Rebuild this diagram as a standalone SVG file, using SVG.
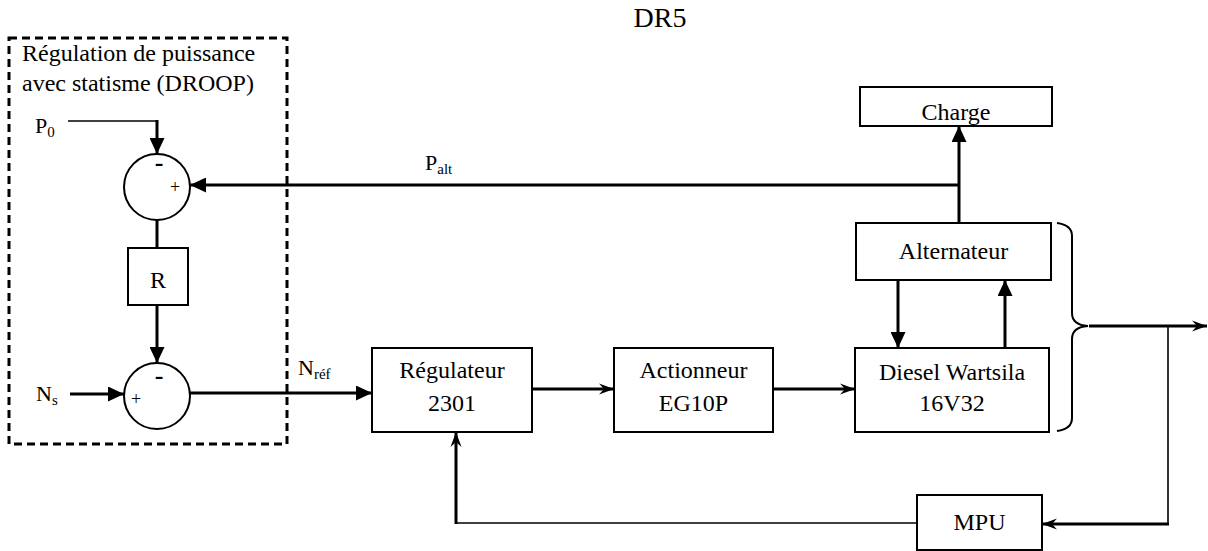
<svg xmlns="http://www.w3.org/2000/svg" width="1208" height="551" viewBox="0 0 1208 551" font-family="'Liberation Serif', 'DejaVu Serif', serif">
<style>
text{font-family:"Liberation Serif","DejaVu Serif",serif;fill:#000}
.lbl{font-size:24px;text-anchor:middle}
.box{fill:#fff;stroke:#000;stroke-width:2}
.sum{fill:#fff;stroke:#000;stroke-width:2}
.thk{stroke:#000;stroke-width:3;fill:none}
.thn{stroke:#000;stroke-width:1.6;fill:none}
.sig{font-size:22px}
.sub{font-size:15px}
.pm{font-size:18px;text-anchor:middle}
.mn{font-size:26px;font-weight:bold;text-anchor:middle}
</style>
<defs>
<marker id="tri" markerUnits="userSpaceOnUse" markerWidth="16" markerHeight="15" refX="16" refY="7.5" orient="auto">
<path d="M0,0 L16,7.5 L0,15 Z" fill="#000"/>
</marker>
<marker id="barb" markerUnits="userSpaceOnUse" markerWidth="16" markerHeight="12" refX="15" refY="6" orient="auto">
<path d="M0,0.5 L15,6 L0,11.5 L5,6 Z" fill="#000"/>
</marker>
</defs>
<rect width="1208" height="551" fill="#fff"/>
<text x="660" y="27" font-family="'Liberation Serif', 'DejaVu Serif', serif" style="font-size:28px" text-anchor="middle">DR5</text>

<g id="droop">
<rect x="9" y="38" width="278" height="406" fill="none" stroke="#000" stroke-width="3" stroke-dasharray="8,5"/>
<text x="22" y="61" style="font-size:24px">Régulation de puissance</text>
<text x="22" y="91" style="font-size:24px">avec statisme (DROOP)</text>
</g>

<g id="sum1">
<circle class="sum" cx="157" cy="187" r="33"/>
<text class="mn" x="159" y="171">-</text>
<text class="pm" x="175" y="193">+</text>
</g>
<g id="R">
<rect class="box" x="128" y="248" width="60" height="57"/>
<text class="lbl" x="158" y="288">R</text>
</g>
<g id="sum2">
<circle class="sum" cx="157" cy="396" r="33"/>
<text class="mn" x="159" y="384">-</text>
<text class="pm" x="136" y="405">+</text>
</g>
<g id="regulateur">
<rect class="box" x="372" y="348" width="160" height="84"/>
<text class="lbl" x="452" y="378">Régulateur</text>
<text class="lbl" x="452" y="411">2301</text>
</g>
<g id="actionneur">
<rect class="box" x="614" y="348" width="159" height="84"/>
<text class="lbl" x="693.5" y="378">Actionneur</text>
<text class="lbl" x="693.5" y="411">EG10P</text>
</g>
<g id="diesel">
<rect class="box" x="855" y="348" width="194" height="84"/>
<text class="lbl" x="952" y="380">Diesel Wartsila</text>
<text class="lbl" x="952" y="411">16V32</text>
</g>
<g id="alternateur">
<rect class="box" x="856" y="223" width="195" height="57"/>
<text class="lbl" x="953.5" y="259">Alternateur</text>
</g>
<g id="charge">
<rect class="box" x="860" y="87" width="192" height="39"/>
<text class="lbl" x="956" y="120">Charge</text>
</g>
<g id="mpu">
<rect class="box" x="917" y="495" width="125" height="55"/>
<text class="lbl" x="979.5" y="530">MPU</text>
</g>

<g id="labels">
<text class="sig" x="35" y="133">P<tspan class="sub" dy="4">0</tspan></text>
<text class="sig" x="36" y="401">N<tspan class="sub" dy="4">s</tspan></text>
<text class="sig" x="425" y="170">P<tspan class="sub" dy="4">alt</tspan></text>
<text class="sig" x="298" y="375">N<tspan class="sub" dy="4">réf</tspan></text>
</g>

<g id="connectors">
<line class="thn" x1="68" y1="121" x2="157" y2="121"/>
<line class="thk" x1="157" y1="120" x2="157" y2="154" marker-end="url(#tri)"/>
<line class="thk" x1="959" y1="185" x2="190" y2="185" marker-end="url(#tri)"/>
<line class="thk" x1="157" y1="220" x2="157" y2="248"/>
<line class="thk" x1="157" y1="305" x2="157" y2="363" marker-end="url(#tri)"/>
<line class="thk" x1="70" y1="394" x2="124" y2="394" marker-end="url(#tri)"/>
<line class="thk" x1="190" y1="393" x2="372" y2="393" marker-end="url(#tri)"/>
<line class="thk" x1="532" y1="389" x2="614" y2="389" marker-end="url(#barb)"/>
<line class="thk" x1="773" y1="389" x2="855" y2="389" marker-end="url(#barb)"/>
<line class="thk" x1="898" y1="280" x2="898" y2="348" marker-end="url(#tri)"/>
<line class="thk" x1="1005" y1="348" x2="1005" y2="280" marker-end="url(#tri)"/>
<line class="thk" x1="959" y1="223" x2="959" y2="126" marker-end="url(#tri)"/>
<path d="M1057,223 Q1072,225 1072,236 L1072,313 Q1072,325 1088,326 Q1072,327 1072,339 L1072,418 Q1072,429 1057,431" fill="none" stroke="#000" stroke-width="2"/>
<line class="thk" x1="1089" y1="326" x2="1207" y2="326" marker-end="url(#barb)"/>
<line class="thn" x1="1168" y1="326" x2="1168" y2="524"/>
<line class="thk" x1="1169" y1="524" x2="1042" y2="524" marker-end="url(#barb)"/>
<line class="thn" x1="917" y1="523" x2="456" y2="523"/>
<line class="thk" x1="456" y1="524" x2="456" y2="432" marker-end="url(#barb)"/>
</g>
</svg>
